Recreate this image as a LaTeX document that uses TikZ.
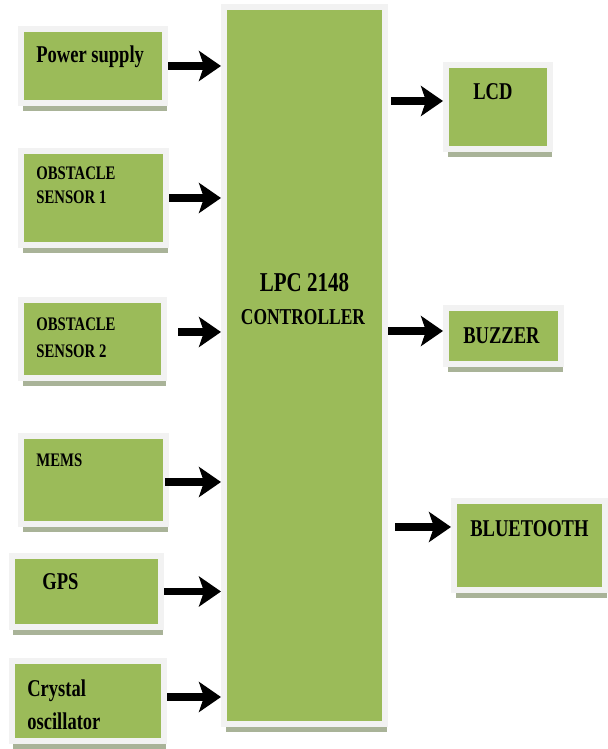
\documentclass[tikz,border=0pt]{standalone}
\usepackage{fontspec}
\setmainfont{Liberation Serif}[FakeStretch=0.77]
\usepackage{tikz}
\usetikzlibrary{arrows.meta, positioning, calc, shadows}
\definecolor{olivegrn}{HTML}{9BBB59}
\definecolor{frame}{HTML}{F2F2F2}
\definecolor{shade}{HTML}{A9B398}

\begin{document}
\begin{tikzpicture}[
    blk/.style={
        draw=frame, fill=olivegrn, line width=0.12cm, inner sep=0pt,
        drop shadow={shadow xshift=0.03cm, shadow yshift=-0.16cm, fill=shade, opacity=1}
    },
    lbl/.style={font=\bfseries\fontsize{13.7}{18.8}\selectfont, anchor=base west,
        inner sep=0pt, align=left},
    slbl/.style={lbl, font=\bfseries\fontsize{10.9}{14.5}\selectfont},
    feed/.style={-{Stealth[length=0.44cm, width=0.6cm, inset=0.1cm]}, line width=0.15cm},
    >=Stealth
]
\useasboundingbox (0,0) rectangle (12.14,14.98);

% --- Controller ---
\node[blk, minimum width=3.22cm, minimum height=14.34cm] (ctrl) at (6.09, 7.67) {};
\node[font=\bfseries\fontsize{15.5}{20}\selectfont, inner sep=0pt, anchor=base] (ctrlt) at (6.09, 9.14) {LPC 2148};
\node[font=\bfseries\fontsize{12.9}{16}\selectfont, inner sep=0pt, anchor=base] (ctrlb) at (6.06, 8.48) {CONTROLLER};

% --- Input blocks (left) ---
\node[blk, minimum width=2.88cm, minimum height=1.48cm] (pwr) at (1.86, 13.66) {};
\node[blk, minimum width=2.90cm, minimum height=1.88cm] (obs1) at (1.87, 11.02) {};
\node[blk, minimum width=2.86cm, minimum height=1.56cm] (obs2) at (1.85, 8.20) {};
\node[blk, minimum width=2.90cm, minimum height=1.76cm] (mems) at (1.87, 5.38) {};
\node[blk, minimum width=2.98cm, minimum height=1.42cm] (gps) at (1.73, 3.15) {};
\node[blk, minimum width=3.04cm, minimum height=1.60cm] (xtal) at (1.76, 0.96) {};

% labels sit on the baseline of their last line
\node[lbl] (pwrt) at (0.72, 13.72) {Power supply};
\node[slbl, font=\bfseries\fontsize{10.9}{13.7}\selectfont] (obs1t) at (0.72, 10.90) {OBSTACLE\\SENSOR 1};
\node[slbl, font=\bfseries\fontsize{10.9}{15.9}\selectfont] (obs2t) at (0.72, 7.82) {OBSTACLE\\SENSOR 2};
\node[slbl] (memst) at (0.72, 5.64) {MEMS};
\node[lbl] (gpst) at (0.84, 3.18) {GPS};
\node[lbl] (xtalt) at (0.54, 0.38) {Crystal\\oscillator};

% --- Output blocks (right) ---
\node[blk, minimum width=2.08cm, minimum height=1.68cm] (lcd) at (9.96, 12.84) {};
\node[blk, minimum width=2.30cm, minimum height=1.12cm] (buzz) at (10.07, 8.26) {};
\node[blk, minimum width=3.02cm, minimum height=1.78cm] (bt) at (10.59, 4.07) {};

\node[lbl] (lcdt) at (9.46, 12.98) {LCD};
\node[lbl] (buzzt) at (9.26, 8.10) {BUZZER};
\node[lbl] (btt) at (9.40, 4.24) {BLUETOOTH};

% --- Inputs -> Controller ---
\foreach \s/\dx/\dy in {pwr/0/0, obs1/0/0, obs2/0.22/0.14, mems/-0.08/-0.04, gps/0/0, xtal/0/0.08} {
    \draw[feed] ([xshift=\dx cm, yshift=\dy cm]\s.east) -- ([yshift=\dy cm]\s.east -| ctrl.west);
}

% --- Controller -> Outputs ---
\foreach \t/\dx/\dy in {lcd/0.06/0.12, buzz/0/0.10, bt/0.14/0.37} {
    \draw[feed] ([xshift=\dx cm, yshift=\dy cm]\t.west -| ctrl.east) -- ([yshift=\dy cm]\t.west);
}

\end{tikzpicture}
\end{document}
